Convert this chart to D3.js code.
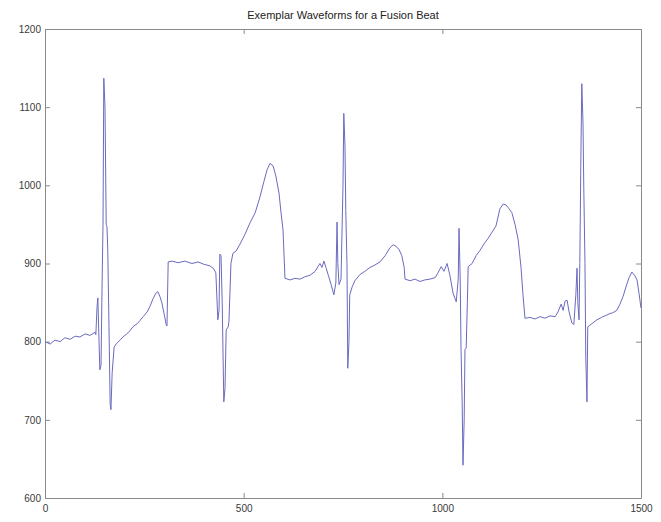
<!DOCTYPE html>
<html>
<head>
<meta charset="utf-8">
<script src="https://cdn.jsdelivr.net/npm/d3@7"></script>
<style>
  body { margin: 0; background: #fff; }
  text { font-family: "Liberation Sans", Arial, sans-serif; }
</style>
</head>
<body>
<script>
var chartTitle = "Exemplar Waveforms for a Fusion Beat";
var xTicks = [0, 500, 1000, 1500];
var yTicks = [600, 700, 800, 900, 1000, 1100, 1200];

// sample index / amplitude
var sampleIndex = [
  0, 13, 25, 38, 50, 63, 76, 88, 101, 113, 126, 128,
  131, 133, 136, 138, 141, 143, 146, 148, 151, 154, 156, 158, 161, 164, 166, 169, 174, 179,
  189, 196, 206, 214, 221, 232, 239, 247, 257, 264, 272, 279, 284, 289, 294, 300, 305, 307, 310,
  320, 335, 352, 370, 385, 400, 415, 425, 430,
  435, 438, 440, 443, 446, 450, 453, 456, 461, 463, 468, 473, 481, 491, 503, 516, 529, 541, 551, 559, 566, 574, 581, 589, 594, 599, 604,
  617, 629, 642, 654, 667, 680, 687, 692, 697, 702, 707, 713, 720, 727,
  732, 735, 737, 740, 745, 750, 752, 755, 757, 760, 762, 765, 767, 773, 780, 793, 805, 818, 830, 843, 856, 868, 876, 883, 891, 898, 904, 906,
  919, 931, 944, 956, 969, 982, 989, 997, 1004, 1012, 1019, 1027, 1035,
  1040, 1042, 1045, 1047, 1050, 1052, 1055, 1057, 1060, 1063, 1065, 1075, 1085, 1095, 1105, 1115, 1125, 1135, 1145, 1153, 1160, 1168, 1175, 1183, 1191, 1198, 1203, 1208,
  1221, 1233, 1246, 1258, 1271, 1284, 1291, 1299, 1304, 1309, 1314, 1319, 1326, 1331,
  1336, 1339, 1341, 1344, 1346, 1349, 1351, 1354, 1356, 1359, 1361, 1364, 1366, 1371, 1379, 1389, 1397, 1404, 1414, 1422, 1429, 1439, 1447, 1455, 1462, 1470, 1477, 1485, 1490, 1495, 1500
];
var amplitude = [
  800, 797, 802, 800, 805, 803, 807, 806, 810, 808, 812, 809,
  845, 856, 800, 764, 770, 850, 950, 1137, 1100, 950, 947, 917, 820, 720, 713, 760, 793, 797,
  802, 806, 810, 814, 819, 823, 827, 832, 838, 845, 855, 862, 864, 858, 850, 835, 822, 820, 902,
  903, 901, 903, 900, 902, 899, 897, 893, 888,
  828, 840, 912, 910, 850, 723, 740, 815, 819, 826, 900, 913, 916, 925, 937, 952, 965, 985, 1005, 1020, 1028, 1025, 1012, 990, 965, 943, 881,
  879, 881, 880, 883, 885, 890, 896, 900, 895, 903, 895, 885, 873, 860,
  875, 953, 900, 873, 880, 1000, 1092, 1050, 968, 900, 766, 800, 860, 870, 878, 886, 890, 895, 898, 902, 910, 920, 924, 922, 918, 910, 895, 880,
  878, 880, 877, 879, 880, 882, 888, 896, 890, 900, 885, 862, 851,
  880, 945, 880, 792, 720, 642, 700, 790, 792, 850, 896, 900, 910, 917, 925, 932, 940, 948, 970, 976, 975, 970, 965, 950, 930, 895, 860, 830,
  831, 829, 832, 830, 833, 832, 838, 848, 840, 852, 853, 838, 824, 822,
  860, 894, 850, 828, 900, 1050, 1130, 1080, 997, 900, 780, 723, 819, 821, 824, 828, 830, 832, 834, 836, 837, 840, 848, 858, 870, 882, 889, 884, 879, 862, 843
];

var width = 661, height = 522;
var margin = {top: 29, right: 20, bottom: 24, left: 45};

var svg = d3.select("body").append("svg")
    .attr("width", width)
    .attr("height", height);

var x = d3.scaleLinear().domain([0, 1500]).range([margin.left, width - margin.right]);
var y = d3.scaleLinear().domain([600, 1200]).range([height - margin.bottom, margin.top]);

var axisColor = "#8a8a8a";
var tickLen = 5;
var fmt = d3.format("d");

// matlab style box, ticks pointing in on all four sides
function styleAxis(g) {
  g.select(".domain").attr("stroke", axisColor);
  g.selectAll(".tick line").attr("stroke", axisColor);
  g.selectAll(".tick text").attr("fill", "#3a3a3a").attr("font-size", 10);
}

svg.append("g")
    .attr("transform", "translate(0," + y(600) + ")")
    .call(d3.axisBottom(x).tickValues(xTicks).tickFormat(fmt).tickSizeInner(-tickLen).tickSizeOuter(0).tickPadding(7))
    .call(styleAxis);

svg.append("g")
    .attr("transform", "translate(0," + y(1200) + ")")
    .call(d3.axisTop(x).tickValues(xTicks).tickSizeInner(-tickLen).tickSizeOuter(0).tickFormat(""))
    .call(styleAxis);

svg.append("g")
    .attr("transform", "translate(" + x(0) + ",0)")
    .call(d3.axisLeft(y).tickValues(yTicks).tickFormat(fmt).tickSizeInner(-tickLen).tickSizeOuter(0).tickPadding(4))
    .call(styleAxis);

svg.append("g")
    .attr("transform", "translate(" + x(1500) + ",0)")
    .call(d3.axisRight(y).tickValues(yTicks).tickSizeInner(-tickLen).tickSizeOuter(0).tickFormat(""))
    .call(styleAxis);

var line = d3.line()
    .x(function(d, i) { return x(sampleIndex[i]); })
    .y(function(d) { return y(d); });

svg.append("path")
    .datum(amplitude)
    .attr("fill", "none")
    .attr("stroke", "#6a6abf")
    .attr("stroke-width", 1)
    .attr("stroke-linejoin", "round")
    .attr("d", line);

svg.append("text")
    .attr("x", (x(0) + x(1500)) / 2)
    .attr("y", 19)
    .attr("text-anchor", "middle")
    .attr("font-size", 11)
    .attr("fill", "#222")
    .text(chartTitle);
</script>
</body>
</html>
